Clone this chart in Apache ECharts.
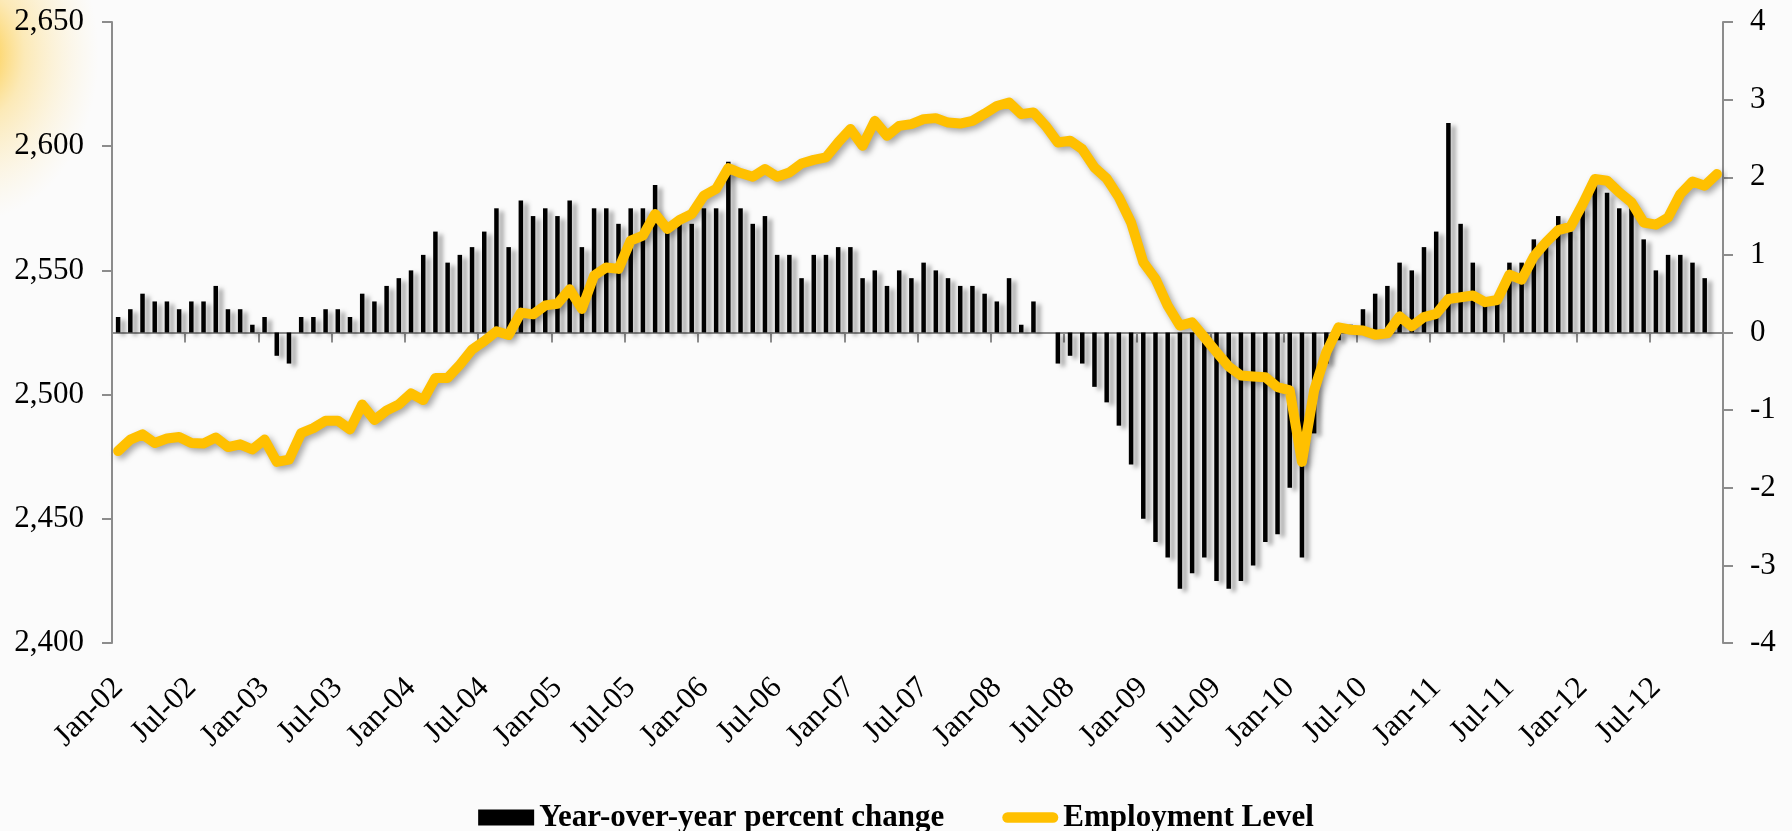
<!DOCTYPE html>
<html>
<head>
<meta charset="utf-8">
<script src="https://cdn.jsdelivr.net/npm/echarts@6/dist/echarts.min.js"></script>
<style>
html,body{margin:0;padding:0;background:#fbfbfb;}
#chart{width:1792px;height:831px;}
</style>
</head>
<body>
<div id="chart"></div>
<script>
const monthNames = ['Jan','Feb','Mar','Apr','May','Jun','Jul','Aug','Sep','Oct','Nov','Dec'];
const years = ['02','03','04','05','06','07','08','09','10','11','12'];
const categories = [];
years.forEach(y => monthNames.forEach(m => categories.push(m + '-' + y)));

// Year-over-year percent change (right axis)
const yoyChange = [
  0.2,0.3,0.5,0.4,0.4,0.3,0.4,0.4,0.6,0.3,0.3,0.1,
  0.2,-0.3,-0.4,0.2,0.2,0.3,0.3,0.2,0.5,0.4,0.6,0.7,
  0.8,1.0,1.3,0.9,1.0,1.1,1.3,1.6,1.1,1.7,1.5,1.6,
  1.5,1.7,1.1,1.6,1.6,1.4,1.6,1.6,1.9,1.4,1.4,1.4,
  1.6,1.6,2.2,1.6,1.4,1.5,1.0,1.0,0.7,1.0,1.0,1.1,
  1.1,0.7,0.8,0.6,0.8,0.7,0.9,0.8,0.7,0.6,0.6,0.5,
  0.4,0.7,0.1,0.4,0.0,-0.4,-0.3,-0.4,-0.7,-0.9,-1.2,-1.7,
  -2.4,-2.7,-2.9,-3.3,-3.1,-2.9,-3.2,-3.3,-3.2,-3.0,-2.7,-2.6,
  -2.0,-2.9,-1.3,-0.4,-0.1,0.1,0.3,0.5,0.6,0.9,0.8,1.1,
  1.3,2.7,1.4,0.9,0.4,0.4,0.9,0.9,1.2,1.1,1.5,1.3,
  1.6,1.9,1.8,1.6,1.6,1.2,0.8,1.0,1.0,0.9,0.7,null
];

// Employment level (left axis)
const employmentLevel = [
  2477.3,2481.9,2484.0,2480.5,2482.3,2482.9,2480.5,2480.3,2482.7,2478.9,2480.0,2477.9,
  2481.9,2472.9,2473.8,2484.5,2486.5,2489.5,2489.5,2486.0,2496.0,2489.8,2493.6,2496.0,
  2500.5,2497.8,2506.7,2506.7,2512.0,2518.1,2521.5,2525.5,2524.0,2533.0,2532.3,2535.9,
  2536.6,2542.4,2534.5,2547.9,2551.2,2550.6,2562.0,2564.0,2572.7,2566.7,2570.3,2572.7,
  2580.1,2582.8,2591.2,2589.2,2587.7,2590.8,2587.7,2589.4,2593.0,2594.5,2595.5,2601.5,
  2606.9,2600.2,2610.2,2604.2,2608.2,2608.9,2610.9,2611.3,2609.5,2609.1,2610.2,2613.1,
  2616.2,2617.6,2612.9,2613.6,2608.2,2601.5,2602.2,2598.8,2591.4,2587.0,2579.4,2569.3,
  2553.3,2546.6,2535.8,2527.8,2529.1,2523.1,2517.1,2511.3,2507.7,2507.3,2507.0,2503.0,
  2501.7,2472.9,2501.7,2517.1,2527.1,2526.1,2525.8,2524.1,2524.7,2531.5,2527.5,2531.2,
  2532.5,2538.5,2539.2,2539.9,2537.2,2538.1,2548.3,2546.3,2555.6,2561.3,2566.2,2567.5,
  2576.7,2586.8,2586.1,2581.4,2577.4,2569.3,2568.4,2571.3,2580.7,2585.8,2584.1,2588.8
];

const leftAxisRange = [2400, 2650, 50];
const rightAxisRange = [-4, 4, 1];
const seriesNames = ['Year-over-year percent change', 'Employment Level'];

const FONT = 'Liberation Serif';
const AXIS_GRAY = '#8c8c8c';

const chart = echarts.init(document.getElementById('chart'), null, {renderer: 'canvas'});
chart.setOption({
  backgroundColor: '#fbfbfb',
  animation: false,
  graphic: [{
    type: 'circle',
    silent: true,
    z: -10,
    x: -25, y: 55,
    scaleX: 0.75, scaleY: 1,
    shape: {cx: 0, cy: 0, r: 165},
    style: {
      fill: new echarts.graphic.RadialGradient(0.5, 0.5, 0.5, [
        {offset: 0, color: 'rgba(253,194,30,0.95)'},
        {offset: 0.4, color: 'rgba(253,212,100,0.45)'},
        {offset: 1, color: 'rgba(253,230,170,0)'}
      ])
    }
  }],
  grid: {left: 112, right: 69, top: 22, bottom: 188, containLabel: false},
  legend: {
    top: 797,
    left: 'center',
    itemWidth: 56,
    itemHeight: 16,
    itemGap: 58,
    textStyle: {fontFamily: FONT, fontWeight: 'bold', fontSize: 31, color: '#000'},
    data: [
      {name: seriesNames[0], icon: 'rect', itemStyle: {color: '#000'}},
      {name: seriesNames[1], icon: 'path://M6,0 H58 A6,6 0 0 1 58,12 H6 A6,6 0 0 1 6,0 Z', itemStyle: {color: '#FFC000'}}
    ]
  },
  xAxis: {
    type: 'category',
    data: categories,
    boundaryGap: true,
    axisLine: {lineStyle: {color: AXIS_GRAY, width: 2}},
    axisTick: {show: true, interval: 5, length: 10, lineStyle: {color: AXIS_GRAY, width: 2}},
    axisLabel: {
      interval: 5, rotate: 45, margin: 40,
      fontFamily: FONT, fontSize: 31, color: '#000'
    },
    splitLine: {show: false}
  },
  yAxis: [
    {
      type: 'value',
      min: leftAxisRange[0], max: leftAxisRange[1], interval: leftAxisRange[2],
      position: 'left',
      axisLine: {show: true, lineStyle: {color: AXIS_GRAY, width: 2}},
      axisTick: {show: true, length: 10, lineStyle: {color: AXIS_GRAY, width: 2}},
      axisLabel: {
        fontFamily: FONT, fontSize: 31, color: '#000', margin: 28,
        formatter: v => v.toLocaleString('en-US')
      },
      splitLine: {show: false}
    },
    {
      type: 'value',
      min: rightAxisRange[0], max: rightAxisRange[1], interval: rightAxisRange[2],
      position: 'right',
      axisLine: {show: true, lineStyle: {color: AXIS_GRAY, width: 2}},
      axisTick: {show: true, length: 10, lineStyle: {color: AXIS_GRAY, width: 2}},
      axisLabel: {fontFamily: FONT, fontSize: 31, color: '#000', margin: 27},
      splitLine: {show: false}
    }
  ],
  series: [
    {
      name: seriesNames[0],
      type: 'bar',
      yAxisIndex: 1,
      data: yoyChange,
      barWidth: 4.5,
      itemStyle: {
        color: '#000',
        shadowColor: 'rgba(0,0,0,0.35)',
        shadowBlur: 4,
        shadowOffsetX: 5,
        shadowOffsetY: 3
      },
      z: 2
    },
    {
      name: seriesNames[1],
      type: 'line',
      yAxisIndex: 0,
      data: employmentLevel,
      symbol: 'none',
      smooth: false,
      lineStyle: {
        color: '#FFC000',
        width: 10,
        cap: 'round',
        join: 'round',
        shadowColor: 'rgba(0,0,0,0.35)',
        shadowBlur: 6,
        shadowOffsetX: 3,
        shadowOffsetY: 3
      },
      itemStyle: {color: '#FFC000'},
      z: 3
    }
  ]
});
</script>
</body>
</html>
